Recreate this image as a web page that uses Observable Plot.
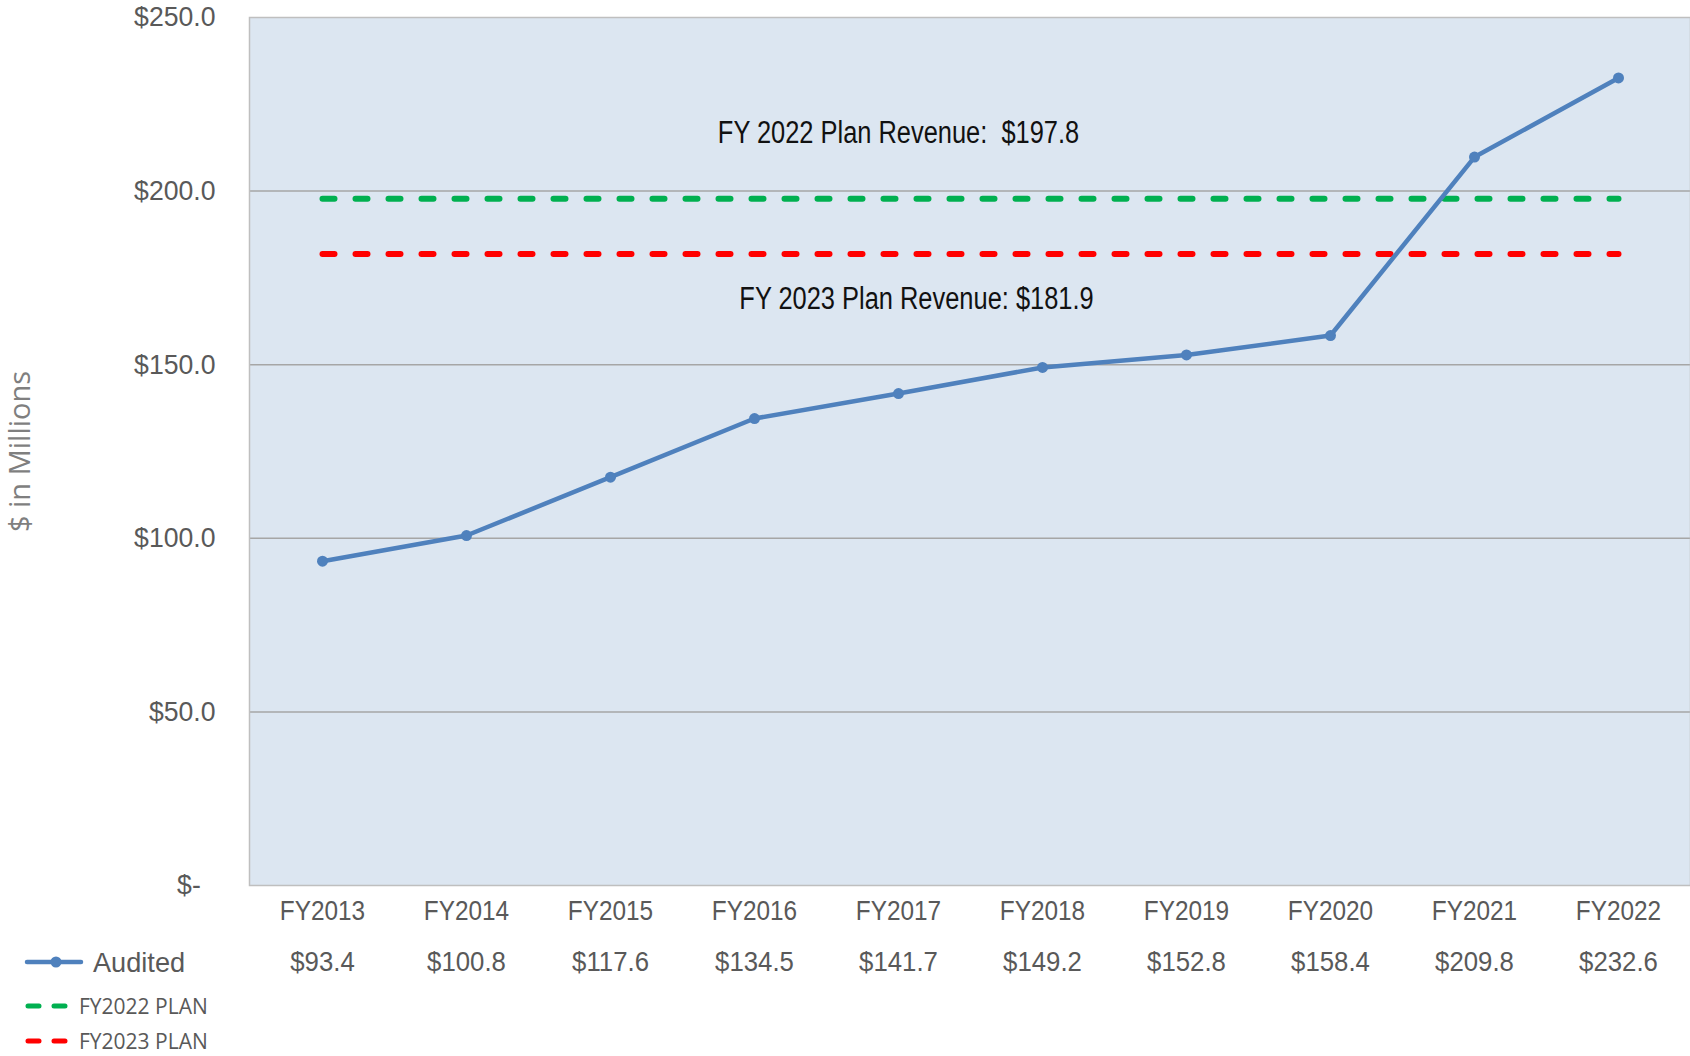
<!DOCTYPE html>
<html>
<head>
<meta charset="utf-8">
<script src="https://cdn.jsdelivr.net/npm/d3@7"></script>
<script src="https://cdn.jsdelivr.net/npm/@observablehq/plot@0.6"></script>
<style>
  html, body { margin: 0; padding: 0; background: #fff; }
  #wrap { position: relative; width: 1690px; height: 1056px; overflow: hidden; }
  #legend { position: absolute; left: 0; top: 0; pointer-events: none; }
</style>
</head>
<body>
<div id="wrap"></div>
<script>
// ---- data ----
const years = ["FY2013","FY2014","FY2015","FY2016","FY2017","FY2018","FY2019","FY2020","FY2021","FY2022"];
const audited = [93.4, 100.8, 117.6, 134.5, 141.7, 149.2, 152.8, 158.4, 209.8, 232.6];
const planNames = ["FY2022 PLAN", "FY2023 PLAN"];
const planValues = [197.8, 181.9];
const planColors = ["#00b050", "#ff0000"];
const yTicks = [0, 50, 100, 150, 200, 250];
const gridTicks = [50, 100, 150, 200];
const seriesName = "Audited";
const yTitle = "$ in Millions";

// ---- derived tables ----
const rows = years.map((fy, i) => ({fy, v: audited[i]}));
const planRows = planNames.map((name, i) => [
  {fy: years[0], v: planValues[i], plan: name},
  {fy: years[years.length - 1], v: planValues[i], plan: name}
]);
const annot = planNames.map((name, i) => ({
  fy: "FY2017", v: planValues[i],
  text: `FY ${name.slice(2, 6)} Plan Revenue:${i === 0 ? "\u00a0 " : " "}$${planValues[i].toFixed(1)}`
}));

const sans = "'Liberation Sans', Arial, sans-serif";
const blue = "#4f81bd";
const grey = "#595959";

const chart = Plot.plot({
  width: 1690,
  height: 1056,
  marginLeft: 249,
  marginRight: 0,
  marginTop: 17,
  marginBottom: 171,
  style: {fontFamily: sans, background: "#fff", color: grey, overflow: "visible"},
  x: {type: "point", domain: years, padding: 0.5},
  y: {domain: [0, 250]},
  marks: [
    Plot.frame({fill: "#dce6f1", stroke: "none"}),
    Plot.ruleY(gridTicks, {stroke: "#a6a6a6", strokeWidth: 1.5}),
    Plot.frame({stroke: "#bfbfbf", strokeWidth: 1.5}),
    Plot.axisY({
      ticks: yTicks,
      tickFormat: d => d === 0 ? "$-\u00a0\u00a0" : "$" + d.toFixed(1),
      tickSize: 0, tickPadding: 34, fontSize: 28, label: null
    }),
    Plot.axisX({tickSize: 0, tickPadding: 15, fontSize: 28, label: null}),
    ...planRows.map((pr, i) => Plot.line(pr, {
      x: "fy", y: "v", stroke: planColors[i], strokeWidth: 6,
      strokeDasharray: "12,21", strokeLinecap: "round"
    })),
    Plot.line(rows, {x: "fy", y: "v", stroke: blue, strokeWidth: 4.5}),
    Plot.dot(rows, {x: "fy", y: "v", r: 5.5, fill: blue, stroke: "none"}),
    // text marks (order matters for the width adjustment below)
    Plot.text(rows, {
      x: "fy", text: d => "$" + d.v.toFixed(1), frameAnchor: "bottom", lineAnchor: "middle",
      dy: 77, fontSize: 28, fill: grey
    }),
    Plot.text([annot[0]], {x: "fy", y: "v", text: "text", dy: -66, fontSize: 31, fill: "#111"}),
    Plot.text([annot[1]], {x: "fy", y: "v", text: "text", dx: 18, dy: 45, fontSize: 31, fill: "#111"}),
    Plot.text([yTitle], {
      text: d => d, frameAnchor: "left", textAnchor: "middle", rotate: -90, dx: -229,
      fontSize: 29, fontFamily: "'Open Sans', sans-serif", fill: "#7f7f7f"
    })
  ]
});
const wrap = document.getElementById("wrap");
wrap.appendChild(chart);

// narrower, Calibri-like set width for the chart's texts
function condenseEls(els, f) {
  els.forEach(t => {
    const w = t.getComputedTextLength();
    if (w > 0) { t.setAttribute("textLength", (w * f).toFixed(1)); t.setAttribute("lengthAdjust", "spacingAndGlyphs"); }
  });
}
condenseEls(chart.querySelectorAll('g[aria-label="y-axis tick label"] text'), 0.95);
condenseEls(chart.querySelectorAll('g[aria-label="x-axis tick label"] text'), 0.87);
const textGroups = chart.querySelectorAll('g[aria-label="text"]');
if (textGroups.length >= 3) {
  condenseEls(textGroups[0].querySelectorAll("text"), 0.92);
  condenseEls(textGroups[1].querySelectorAll("text"), 0.82);
  condenseEls(textGroups[2].querySelectorAll("text"), 0.82);
}

// ---- legend (drawn below plot area, at left of the data row) ----
const ns = "http://www.w3.org/2000/svg";
const leg = document.createElementNS(ns, "svg");
leg.setAttribute("id", "legend");
leg.setAttribute("width", 260);
leg.setAttribute("height", 1056);
function el(tag, attrs, text) {
  const e = document.createElementNS(ns, tag);
  for (const k in attrs) e.setAttribute(k, attrs[k]);
  if (text != null) e.textContent = text;
  leg.appendChild(e);
  return e;
}
el("line", {x1: 27, x2: 81, y1: 962, y2: 962, stroke: blue, "stroke-width": 4.5, "stroke-linecap": "round"});
el("circle", {cx: 56, cy: 962, r: 5.5, fill: blue});
const at = el("text", {x: 93, y: 962, "dominant-baseline": "central", "font-family": sans, "font-size": 28, fill: grey}, seriesName);
planNames.forEach((name, i) => {
  const y = 1006 + i * 35;
  el("line", {x1: 28, x2: 68, y1: y, y2: y, stroke: planColors[i], "stroke-width": 5,
    "stroke-linecap": "round", "stroke-dasharray": "11,15"});
  el("text", {x: 79, y: y, "dominant-baseline": "central", "font-family": "'Open Sans', sans-serif",
    "font-size": 21, fill: grey}, name);
});
wrap.appendChild(leg);
const aw = at.getComputedTextLength();
if (aw > 0) { at.setAttribute("textLength", (aw * 0.97).toFixed(1)); at.setAttribute("lengthAdjust", "spacingAndGlyphs"); }
</script>
</body>
</html>
